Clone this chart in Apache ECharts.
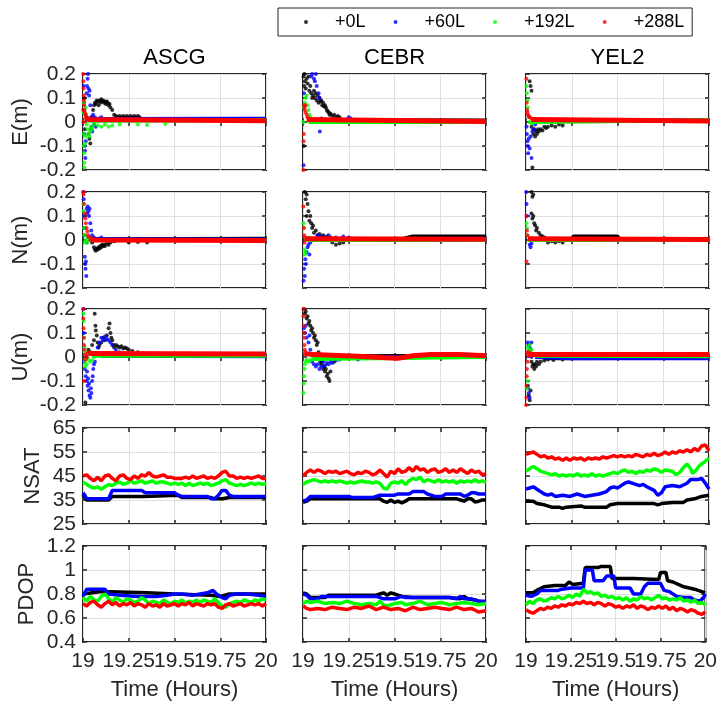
<!DOCTYPE html>
<html><head><meta charset="utf-8">
<script src="https://cdn.jsdelivr.net/npm/echarts@6/dist/echarts.min.js"></script>
<style>html,body{margin:0;padding:0;background:#fff}#c{width:720px;height:704px}</style>
</head><body><div id="c"></div><script>
// ---------- categories / labels ----------
const stations = ['ASCG', 'CEBR', 'YEL2'];
const receivers = ['+0L', '+60L', '+192L', '+288L'];
const rowNames = ['E(m)', 'N(m)', 'U(m)', 'NSAT', 'PDOP'];
const xTicks = [19, 19.25, 19.5, 19.75, 20];
const yTicksENU = [-0.2, -0.1, 0, 0.1, 0.2];
const yTicksNSAT = [25, 35, 45, 55, 65];
const yTicksPDOP = [0.4, 0.6, 0.8, 1, 1.2];

// ---------- ASCG E ----------
const ASCG_E_0L = [[19.004,0.05],[19.008,0.1],[19.01,-0.03],[19.015,0.03],[19.02,0.01],[19.03,-0.05],[19.035,-0.07],[19.04,-0.09],[19.045,-0.03],[19.05,0.02],[19.055,0.05],[19.06,0.07],[19.065,0.08],[19.07,0.075],[19.075,0.09],[19.08,0.085],[19.085,0.07],[19.09,0.09],[19.095,0.08],[19.1,0.095],[19.105,0.085],[19.11,0.09],[19.115,0.08],[19.12,0.085],[19.125,0.075],[19.13,0.085],[19.135,0.08],[19.14,0.07],[19.145,0.075],[19.15,0.06],[19.16,0.05],[19.17,0.03],[19.18,0.025],[19.19,0.02],[19.2,0.025],[19.21,0.02],[19.22,0.025],[19.23,0.02],[19.24,0.025],[19.25,0.02],[19.26,0.025],[19.27,0.02],[19.28,0.025],[19.29,0.02],[19.3,0.025],[19.31,0.02]];
const ASCG_E_0L_band = [[19.06,0.01],[19.5,0.008],[20,0.01]];
const ASCG_E_60L = [[19.003,0.15],[19.005,0.08],[19.007,-0.05],[19.009,-0.1],[19.011,-0.12],[19.013,-0.15],[19.015,-0.08],[19.02,0.12],[19.022,0.15],[19.025,0.18],[19.028,0.2],[19.03,0.14],[19.033,0.11],[19.036,0.13],[19.04,0.07],[19.043,0.02],[19.046,-0.02],[19.05,-0.04],[19.055,0.03],[19.06,-0.01],[19.065,0.02],[19.07,-0.02],[19.08,0.005],[19.09,0.015],[19.1,0.02],[19.12,0.005],[19.14,0.012],[19.16,0.008]];
const ASCG_E_60L_band = [[19.05,0.012],[20,0.014]];
const ASCG_E_192L = [[19.002,0.08],[19.003,0.04],[19.004,-0.05],[19.005,-0.1],[19.006,-0.13],[19.007,-0.17],[19.008,-0.19],[19.01,-0.09],[19.012,-0.06],[19.015,0.06],[19.018,0.03],[19.02,-0.01],[19.025,-0.03],[19.03,-0.05],[19.035,-0.06],[19.04,-0.04],[19.045,-0.02],[19.05,-0.03],[19.06,-0.01],[19.08,-0.015],[19.1,-0.02],[19.12,-0.01],[19.14,-0.02],[19.16,-0.015],[19.2,-0.01],[19.3,-0.01],[19.35,-0.012],[19.45,-0.008]];
const ASCG_E_192L_band = [[19.03,0.005],[20,0.008]];
const ASCG_E_288L = [[19.001,0.2],[19.002,0.17],[19.003,0.14],[19.004,0.11],[19.005,0.09],[19.006,0.07],[19.008,0.05],[19.01,0.04],[19.013,0.03],[19.016,0.02],[19.02,0.015],[19.001,0.05],[19.002,0.0]];
const ASCG_E_288L_band = [[19.015,0.02],[19.03,0.01],[20,0.005]];
// ---------- ASCG N ----------
const ASCG_N_0L = [[19.01,0.02],[19.02,-0.01],[19.03,0.01],[19.04,0.0],[19.05,-0.01],[19.06,-0.03],[19.065,-0.04],[19.07,-0.045],[19.075,-0.035],[19.08,-0.04],[19.085,-0.03],[19.09,-0.035],[19.095,-0.025],[19.1,-0.03],[19.105,-0.02],[19.11,-0.025],[19.115,-0.02],[19.12,-0.025],[19.13,-0.015],[19.14,-0.02],[19.15,-0.01],[19.17,-0.005],[19.25,-0.01],[19.3,-0.008],[19.35,-0.01]];
const ASCG_N_0L_band = [[19.05,0.003],[20,0.005]];
const ASCG_N_60L = [[19.002,0.2],[19.004,0.17],[19.006,0.1],[19.008,0.05],[19.01,-0.07],[19.012,-0.1],[19.014,-0.12],[19.016,-0.09],[19.018,-0.15],[19.02,0.13],[19.023,0.11],[19.026,0.14],[19.03,0.12],[19.033,0.1],[19.036,0.13],[19.04,0.07],[19.045,0.04],[19.05,0.02],[19.06,0.01],[19.08,0.005],[19.1,0.01],[19.3,0.005]];
const ASCG_N_60L_band = [[19.05,0.003],[20,0.002]];
const ASCG_N_192L = [[19.002,0.15],[19.004,0.12],[19.006,0.05],[19.008,0.02],[19.01,-0.01],[19.015,0.0],[19.02,-0.01],[19.03,0.01],[19.05,0.005]];
const ASCG_N_192L_band = [[19.03,0.0],[20,0.0]];
const ASCG_N_288L = [[19.001,0.2],[19.003,0.19],[19.006,0.15],[19.01,0.11],[19.013,0.09],[19.016,0.07],[19.02,0.05],[19.024,0.035],[19.028,0.02],[19.034,0.01],[19.04,0.005]];
const ASCG_N_288L_band = [[19.035,0.006],[19.06,0.0],[20,-0.002]];
// ---------- ASCG U ----------
const ASCG_U_0L = [[19.013,-0.19],[19.02,0.0],[19.03,0.03],[19.04,0.02],[19.05,0.05],[19.06,0.07],[19.064,0.18],[19.068,0.13],[19.07,0.11],[19.075,0.09],[19.08,0.06],[19.085,0.04],[19.09,0.05],[19.1,0.06],[19.11,0.08],[19.12,0.07],[19.13,0.09],[19.14,0.12],[19.145,0.14],[19.15,0.1],[19.155,0.08],[19.16,0.07],[19.165,0.05],[19.17,0.04],[19.18,0.05],[19.19,0.045],[19.2,0.04],[19.21,0.045],[19.22,0.035],[19.23,0.04],[19.24,0.035],[19.25,0.03],[19.27,0.025],[19.3,0.02],[19.33,0.015],[19.36,0.012]];
const ASCG_U_0L_band = [[19.1,0.005],[20,0.005]];
const ASCG_U_60L = [[19.002,0.2],[19.004,0.1],[19.006,-0.02],[19.01,-0.05],[19.015,-0.08],[19.02,-0.1],[19.022,-0.06],[19.025,-0.12],[19.028,-0.09],[19.03,-0.14],[19.033,-0.11],[19.036,-0.16],[19.04,-0.17],[19.043,-0.13],[19.046,-0.15],[19.05,-0.1],[19.053,-0.08],[19.056,-0.05],[19.06,-0.03],[19.065,-0.02],[19.07,0.01],[19.08,0.04],[19.09,0.06],[19.1,0.08],[19.11,0.07],[19.12,0.085],[19.13,0.075],[19.14,0.07],[19.15,0.06],[19.16,0.05],[19.18,0.03],[19.2,0.02],[19.25,0.01]];
const ASCG_U_60L_band = [[19.1,0.005],[20,0.003]];
const ASCG_U_192L = [[19.002,0.18],[19.004,0.15],[19.006,0.08],[19.008,0.04],[19.01,-0.02],[19.012,-0.04],[19.015,0.02],[19.02,-0.03],[19.03,-0.01],[19.04,-0.02],[19.05,-0.015],[19.06,0.0],[19.08,0.01]];
const ASCG_U_192L_band = [[19.05,0.005],[20,0.005]];
const ASCG_U_288L = [[19.001,0.2],[19.002,0.16],[19.003,0.12],[19.004,0.08],[19.005,-0.1],[19.006,0.05],[19.008,0.03],[19.01,0.01],[19.015,-0.01],[19.02,0.0],[19.025,0.015],[19.03,0.02]];
const ASCG_U_288L_band = [[19.03,0.015],[20,0.012]];
// ---------- CEBR E ----------
const CEBR_E_0L = [[19.003,0.19],[19.006,0.15],[19.008,0.2],[19.01,0.17],[19.015,0.14],[19.02,0.18],[19.025,0.16],[19.03,0.19],[19.035,0.13],[19.04,0.15],[19.045,0.12],[19.05,0.1],[19.055,0.11],[19.06,0.13],[19.065,0.1],[19.07,0.12],[19.075,0.09],[19.08,0.11],[19.085,0.08],[19.09,0.1],[19.095,0.085],[19.1,0.09],[19.105,0.07],[19.11,0.08],[19.115,0.065],[19.12,0.07],[19.125,0.06],[19.13,0.05],[19.135,0.045],[19.14,0.04],[19.145,0.03],[19.15,0.035],[19.16,0.025],[19.17,0.03],[19.18,0.02],[19.19,0.025],[19.2,0.02],[19.004,-0.1]];
const CEBR_E_0L_band = [[19.1,0.008],[20,0.006]];
const CEBR_E_60L = [[19.003,-0.18],[19.005,0.12],[19.045,0.19],[19.05,0.2],[19.06,0.18],[19.065,0.17],[19.07,0.2],[19.075,0.15],[19.085,0.12],[19.09,0.1],[19.092,-0.04],[19.1,0.015],[19.12,0.01],[19.25,0.02],[19.26,0.015]];
const CEBR_E_60L_band = [[19.1,0.005],[20,0.003]];
const CEBR_E_192L = [[19.002,0.0],[19.005,0.06],[19.01,0.08],[19.015,0.1],[19.02,0.11],[19.025,0.07],[19.03,0.05],[19.035,0.03],[19.04,0.02],[19.05,0.01]];
const CEBR_E_192L_band = [[19.03,0.0],[20,0.0]];
const CEBR_E_288L = [[19.002,-0.2],[19.003,-0.08],[19.004,-0.05],[19.006,0.07],[19.008,0.06],[19.01,0.05],[19.012,0.07],[19.015,0.04],[19.02,0.03],[19.025,0.02]];
const CEBR_E_288L_band = [[19.02,0.01],[20,0.002]];
// ---------- CEBR N ----------
const CEBR_N_0L = [[19.01,0.2],[19.015,0.17],[19.02,0.19],[19.025,0.15],[19.03,0.12],[19.02,0.1],[19.035,0.08],[19.04,0.1],[19.045,0.07],[19.05,0.05],[19.055,0.06],[19.06,0.03],[19.07,0.04],[19.08,0.02],[19.09,0.025],[19.1,0.015],[19.11,0.02],[19.12,0.01],[19.13,0.015],[19.14,0.005],[19.15,0.01],[19.16,-0.01],[19.18,-0.02],[19.2,-0.015],[19.22,-0.01]];
const CEBR_N_0L_band = [[19.1,0.003],[19.55,0.005],[19.6,0.015],[20,0.015]];
const CEBR_N_60L = [[19.003,-0.17],[19.006,-0.12],[19.01,-0.15],[19.013,-0.08],[19.016,-0.1],[19.02,-0.05],[19.025,-0.03],[19.03,-0.02],[19.035,-0.06],[19.04,-0.01],[19.05,0.0],[19.08,0.02],[19.1,0.015],[19.14,0.02],[19.18,0.01],[19.22,0.015],[19.25,0.01],[19.6,0.01]];
const CEBR_N_60L_band = [[19.1,0.003],[20,0.005]];
const CEBR_N_192L = [[19.003,0.07],[19.006,0.05],[19.008,-0.04],[19.01,-0.06],[19.015,-0.05],[19.02,0.0],[19.03,0.01]];
const CEBR_N_192L_band = [[19.03,0.0],[20,0.0]];
const CEBR_N_288L = [[19.002,0.14],[19.004,0.05],[19.006,0.02],[19.008,-0.01],[19.01,0.01]];
const CEBR_N_288L_band = [[19.01,0.005],[20,0.003]];
// ---------- CEBR U ----------
const CEBR_U_0L = [[19.005,0.2],[19.01,0.18],[19.015,0.19],[19.02,0.16],[19.025,0.17],[19.03,0.14],[19.035,0.15],[19.04,0.13],[19.045,0.11],[19.05,0.12],[19.055,0.1],[19.06,0.08],[19.065,0.09],[19.07,0.07],[19.075,0.05],[19.08,0.06],[19.085,0.02],[19.09,0.0],[19.095,-0.02],[19.1,-0.03],[19.105,-0.02],[19.11,-0.05],[19.115,-0.04],[19.12,-0.06],[19.125,-0.05],[19.13,-0.08],[19.135,-0.07],[19.14,-0.09],[19.145,-0.1],[19.15,-0.06],[19.17,-0.02],[19.2,0.0],[19.25,0.005],[19.3,0.0],[19.35,0.003]];
const CEBR_U_0L_band = [[19.2,0.003],[20,0.005]];
const CEBR_U_60L = [[19.005,0.12],[19.01,0.1],[19.015,0.13],[19.02,0.08],[19.03,0.06],[19.035,0.09],[19.04,0.03],[19.05,-0.02],[19.06,-0.03],[19.07,-0.04],[19.08,-0.03],[19.09,-0.05],[19.1,-0.04],[19.11,-0.02],[19.12,-0.035],[19.13,-0.025],[19.14,-0.03],[19.15,-0.02],[19.16,-0.025],[19.18,-0.015],[19.2,-0.01],[19.25,-0.005],[19.3,-0.01],[19.35,-0.005]];
const CEBR_U_60L_band = [[19.2,-0.003],[20,0.003]];
const CEBR_U_192L = [[19.002,-0.15],[19.004,-0.11],[19.006,-0.08],[19.008,-0.05],[19.01,-0.03],[19.015,-0.02],[19.02,-0.01],[19.03,-0.02],[19.04,-0.015],[19.05,-0.01]];
const CEBR_U_192L_band = [[19.05,-0.008],[20,0.0]];
const CEBR_U_288L = [[19.002,0.2],[19.003,0.17],[19.004,0.13],[19.005,0.1],[19.006,0.08],[19.008,0.05],[19.01,0.03],[19.012,0.02],[19.015,0.01]];
const CEBR_U_288L_band = [[19.01,0.015],[19.05,0.01],[19.3,0.003],[19.45,-0.003],[19.52,-0.005],[19.6,0.005],[19.7,0.01],[19.85,0.01],[20,0.005]];
// ---------- YEL2 E ----------
const YEL2_E_0L = [[19.02,0.17],[19.025,0.15],[19.03,0.13],[19.035,-0.19],[19.03,-0.02],[19.04,-0.05],[19.045,-0.03],[19.05,-0.06],[19.055,-0.04],[19.06,-0.05],[19.065,-0.03],[19.07,-0.04],[19.08,-0.03],[19.09,-0.035],[19.1,-0.02],[19.11,-0.025],[19.12,-0.02],[19.14,-0.015],[19.16,-0.02],[19.18,-0.01],[19.2,-0.015]];
const YEL2_E_0L_band = [[19.1,0.003],[20,0.005]];
const YEL2_E_60L = [[19.003,-0.02],[19.005,-0.05],[19.008,-0.08],[19.01,-0.1],[19.012,-0.13],[19.015,-0.07],[19.02,-0.11],[19.025,-0.06],[19.03,-0.15],[19.035,-0.04],[19.04,-0.03],[19.05,-0.01]];
const YEL2_E_60L_band = [[19.05,0.005],[20,0.008]];
const YEL2_E_192L = [[19.003,0.15],[19.005,0.12],[19.008,0.09],[19.01,0.06],[19.015,0.02],[19.02,0.0],[19.03,-0.005]];
const YEL2_E_192L_band = [[19.03,0.0],[20,0.008]];
const YEL2_E_288L = [[19.002,0.18],[19.004,0.08],[19.006,0.05],[19.008,0.04],[19.01,0.03],[19.015,0.025],[19.02,0.02],[19.03,0.015],[19.04,0.01]];
const YEL2_E_288L_band = [[19.03,0.01],[20,0.004]];
// ---------- YEL2 N ----------
const YEL2_N_0L = [[19.03,0.2],[19.035,0.18],[19.04,0.19],[19.03,0.11],[19.035,0.09],[19.04,0.1],[19.045,0.07],[19.05,0.06],[19.055,0.04],[19.06,0.05],[19.07,0.03],[19.08,0.02],[19.09,0.015],[19.1,0.01],[19.12,-0.01],[19.14,-0.005],[19.16,-0.01],[19.18,-0.005],[19.2,-0.01]];
const YEL2_N_0L_band = [[19.1,0.003],[19.25,0.003],[19.26,0.015],[19.5,0.015],[19.51,0.003],[20,0.003]];
const YEL2_N_60L = [[19.001,0.2],[19.003,0.15],[19.005,0.1],[19.02,-0.02],[19.025,-0.03],[19.03,-0.015]];
const YEL2_N_60L_band = [[19.03,0.0],[20,0.002]];
const YEL2_N_192L = [[19.003,0.07],[19.005,0.05],[19.008,0.02]];
const YEL2_N_192L_band = [[19.01,0.0],[20,0.0]];
const YEL2_N_288L = [[19.002,0.1],[19.003,-0.09],[19.005,0.04],[19.007,0.02]];
const YEL2_N_288L_band = [[19.01,0.005],[20,0.002]];
// ---------- YEL2 U ----------
const YEL2_U_0L = [[19.01,-0.12],[19.015,-0.16],[19.02,-0.18],[19.025,-0.14],[19.03,-0.02],[19.035,-0.04],[19.04,-0.03],[19.045,-0.05],[19.05,-0.03],[19.055,-0.04],[19.06,-0.02],[19.07,-0.03],[19.08,-0.02],[19.1,-0.015],[19.12,-0.01],[19.15,-0.012],[19.2,-0.01]];
const YEL2_U_0L_band = [[19.1,-0.005],[20,-0.003]];
const YEL2_U_60L = [[19.01,0.06],[19.015,0.05],[19.02,0.04],[19.025,0.03],[19.03,0.06],[19.01,-0.13],[19.015,-0.15],[19.02,-0.17],[19.03,0.0],[19.05,0.01]];
const YEL2_U_60L_band = [[19.05,0.0],[19.25,-0.005],[20,-0.005]];
const YEL2_U_192L = [[19.01,0.04],[19.015,0.03],[19.02,0.05],[19.025,0.02],[19.03,0.03],[19.005,-0.13],[19.01,-0.1]];
const YEL2_U_192L_band = [[19.05,0.005],[20,0.003]];
const YEL2_U_288L = [[19.001,-0.2],[19.002,-0.17],[19.003,-0.12],[19.004,-0.08],[19.005,-0.05],[19.006,0.02],[19.008,-0.02],[19.01,0.01],[19.015,0.02],[19.02,0.005],[19.025,0.015]];
const YEL2_U_288L_band = [[19.02,0.01],[20,0.01]];

// ---------- NSAT ----------
const ASCG_NSAT_0L = [[19,37.5],[19.01,36],[19.02,35],[19.14,35],[19.16,36.5],[19.33,36.5],[19.34,37],[19.52,37],[19.54,36],[19.7,36],[19.72,35.5],[19.76,35.5],[19.8,36],[20,36]];
const ASCG_NSAT_60L = [[19,38],[19.01,37],[19.02,35.5],[19.14,35.5],[19.16,39],[19.32,39],[19.34,38],[19.5,38],[19.52,37],[19.54,36.5],[19.68,36.5],[19.7,35.5],[19.72,35.5],[19.74,37],[19.76,39],[19.78,39],[19.8,37],[19.82,36.5],[20,36.5]];
const ASCG_NSAT_192L = [[19,42.5],[19.02,41.5],[19.04,40.5],[19.06,40],[19.08,40.5],[19.1,39.5],[19.12,40.5],[19.14,41.5],[19.16,41],[19.18,42],[19.2,42.5],[19.22,41.5],[19.24,42],[19.26,43],[19.28,42],[19.3,42.5],[19.32,43],[19.34,42],[19.36,42.5],[19.38,43],[19.4,42],[19.42,42.5],[19.44,42.5],[19.46,42],[19.48,41.5],[19.5,42],[19.52,41.5],[19.54,42],[19.56,41],[19.58,42],[19.6,41],[19.62,41.5],[19.64,42],[19.66,41.5],[19.68,42],[19.7,41],[19.72,41.5],[19.74,42],[19.76,43],[19.78,43.5],[19.8,42],[19.82,41.5],[19.84,41],[19.86,41.5],[19.88,41],[19.9,41.5],[19.92,42],[19.94,41.5],[19.96,42],[19.98,41.5],[20,42]];
const ASCG_NSAT_288L = [[19,45],[19.02,45.5],[19.04,44],[19.06,43],[19.08,44.5],[19.1,43],[19.12,45],[19.14,45.5],[19.16,44],[19.18,43],[19.2,45],[19.22,45.5],[19.24,44],[19.26,43.5],[19.28,45],[19.3,44],[19.32,45.5],[19.34,45],[19.36,46.5],[19.38,45],[19.4,44.5],[19.42,45],[19.44,45.5],[19.46,44.5],[19.48,44.5],[19.5,44],[19.52,44],[19.54,44],[19.56,44.5],[19.58,44],[19.6,45],[19.62,44],[19.64,44.5],[19.66,45],[19.68,44],[19.7,44.5],[19.72,44],[19.74,45],[19.76,46.5],[19.78,47],[19.8,45],[19.82,45],[19.84,44],[19.86,44.5],[19.88,44],[19.9,44.5],[19.92,44],[19.94,44.5],[19.96,45],[19.98,44],[20,44]];
const CEBR_NSAT_0L = [[19,34],[19.02,34.5],[19.04,35.5],[19.42,35.5],[19.44,34.5],[19.46,34],[19.48,35],[19.5,34],[19.52,34.5],[19.54,33.8],[19.56,34.5],[19.58,35.5],[19.84,35.5],[19.86,35],[19.88,34.5],[19.9,35.5],[19.92,35.5],[19.94,34.2],[19.96,34.5],[19.98,35],[20,35]];
const CEBR_NSAT_60L = [[19,34.5],[19.02,35],[19.04,36.5],[19.25,36.5],[19.27,36],[19.38,36],[19.42,37],[19.5,37],[19.52,37.5],[19.58,37.5],[19.6,38.5],[19.66,38.5],[19.68,37.5],[19.72,36.5],[19.76,36.5],[19.78,37.5],[19.86,37.5],[19.88,36.5],[19.9,37],[19.92,38],[19.94,38],[19.96,37.5],[20,37.5]];
const CEBR_NSAT_192L = [[19,41.5],[19.02,42.5],[19.04,43],[19.06,43.5],[19.08,43],[19.1,42.5],[19.12,43],[19.14,42.5],[19.16,43],[19.18,42.5],[19.2,43],[19.22,42.5],[19.24,42],[19.26,42.5],[19.28,42],[19.3,42.5],[19.32,43],[19.34,42.5],[19.36,42.5],[19.38,42],[19.4,42.5],[19.42,42],[19.44,40],[19.46,39.5],[19.48,42],[19.5,42.5],[19.52,42],[19.54,43],[19.56,41.5],[19.58,43],[19.6,44],[19.62,43.5],[19.64,44.5],[19.66,42.5],[19.68,43.5],[19.7,43],[19.72,42.5],[19.74,43.5],[19.76,42.5],[19.78,43],[19.8,42.5],[19.82,43],[19.84,42],[19.86,43],[19.88,42.5],[19.9,43],[19.92,42.5],[19.94,43.5],[19.96,42.5],[19.98,43],[20,42.5]];
const CEBR_NSAT_288L = [[19,45],[19.02,46.5],[19.04,47.5],[19.06,46.5],[19.08,47.5],[19.1,47],[19.12,46],[19.14,47],[19.16,46.5],[19.18,47],[19.2,46],[19.22,46.5],[19.24,47],[19.26,46],[19.28,45.5],[19.3,46.5],[19.32,46],[19.34,47],[19.36,46.5],[19.38,45.5],[19.4,46],[19.42,47.5],[19.44,46],[19.46,44.5],[19.48,47],[19.5,46],[19.52,48],[19.54,46.5],[19.56,47],[19.58,48.5],[19.6,47],[19.62,49],[19.64,47.5],[19.66,48],[19.68,46.5],[19.7,47.5],[19.72,48],[19.74,46.5],[19.76,47],[19.78,48],[19.8,46.5],[19.82,47.5],[19.84,46.5],[19.86,48],[19.88,47],[19.9,46],[19.92,47.5],[19.94,46.5],[19.96,47],[19.98,45.5],[20,46]];
const YEL2_NSAT_0L = [[19,34.5],[19.04,34.5],[19.06,33.5],[19.1,33],[19.14,32],[19.18,32],[19.2,31.5],[19.22,32],[19.3,32.5],[19.32,32],[19.44,32],[19.46,33],[19.5,33.5],[19.7,33.5],[19.72,33],[19.74,33.5],[19.8,34],[19.86,34],[19.88,35],[19.92,35.5],[19.96,36.5],[20,37]];
const YEL2_NSAT_60L = [[19,39.5],[19.02,40],[19.04,40.5],[19.06,39.5],[19.08,38.5],[19.1,37.5],[19.12,37],[19.14,37.5],[19.16,36.5],[19.2,37],[19.24,36.5],[19.28,37.5],[19.32,36.5],[19.36,37],[19.4,37.5],[19.44,38.5],[19.46,40],[19.48,40.5],[19.5,40],[19.52,41],[19.54,42],[19.56,42.5],[19.58,42],[19.6,41.5],[19.62,41],[19.64,41.5],[19.66,40.5],[19.7,39],[19.72,37],[19.74,38],[19.76,40.5],[19.8,41],[19.84,40.5],[19.88,42],[19.9,43.5],[19.94,43.5],[19.96,44],[19.98,42],[20,39.5]];
const YEL2_NSAT_192L = [[19,47],[19.02,48],[19.04,49],[19.06,48],[19.08,47],[19.1,46.5],[19.12,46],[19.14,45.5],[19.16,46],[19.18,45],[19.2,45.5],[19.22,45],[19.24,45.5],[19.26,45],[19.28,46],[19.3,45],[19.32,45.5],[19.34,45],[19.36,46],[19.38,45],[19.4,45.5],[19.42,45],[19.44,45.5],[19.46,46],[19.48,46.5],[19.5,46],[19.52,47],[19.54,47.5],[19.56,46.5],[19.58,47],[19.6,46],[19.62,47],[19.64,46.5],[19.66,47.5],[19.68,47],[19.7,48],[19.72,47.5],[19.74,46.5],[19.76,47.5],[19.8,47],[19.82,45.5],[19.84,46.5],[19.86,48.5],[19.88,50],[19.9,48],[19.91,46],[19.93,47.5],[19.95,49.5],[19.97,50.5],[20,52.5]];
const YEL2_NSAT_288L = [[19,54],[19.02,54.5],[19.04,55],[19.06,54],[19.08,53],[19.1,53.5],[19.12,52.5],[19.14,53],[19.16,52],[19.18,52.5],[19.2,51.5],[19.22,52.5],[19.24,51.5],[19.26,52.5],[19.28,52],[19.3,52.5],[19.32,51.5],[19.34,52.5],[19.36,52],[19.38,52.5],[19.4,52],[19.42,53],[19.44,52.5],[19.46,53],[19.48,53.5],[19.5,53],[19.52,53.5],[19.54,53],[19.56,53.5],[19.58,53],[19.6,54],[19.62,53.5],[19.64,53],[19.66,54],[19.68,53.5],[19.7,54.5],[19.72,53.5],[19.74,54],[19.76,55],[19.78,54],[19.8,55],[19.82,54.5],[19.84,55.5],[19.86,55],[19.88,56],[19.9,55],[19.92,56.5],[19.94,55.5],[19.96,57.5],[19.98,58],[20,55.5]];

// ---------- PDOP ----------
const ASCG_PDOP_0L = [[19,0.8],[19.1,0.82],[19.35,0.81],[19.36,0.8],[19.5,0.8],[19.7,0.79],[19.75,0.78],[19.8,0.8],[20,0.8]];
const ASCG_PDOP_60L = [[19,0.78],[19.02,0.84],[19.12,0.84],[19.14,0.8],[19.2,0.79],[19.3,0.78],[19.4,0.78],[19.46,0.79],[19.5,0.8],[19.54,0.8],[19.6,0.79],[19.68,0.81],[19.71,0.83],[19.73,0.8],[19.76,0.77],[19.78,0.76],[19.8,0.79],[19.84,0.8],[19.9,0.8],[19.96,0.79],[20,0.78]];
const ASCG_PDOP_192L = [[19,0.77],[19.02,0.74],[19.04,0.78],[19.06,0.75],[19.08,0.74],[19.1,0.78],[19.12,0.8],[19.14,0.76],[19.16,0.73],[19.18,0.77],[19.2,0.75],[19.22,0.73],[19.24,0.76],[19.26,0.75],[19.28,0.73],[19.3,0.74],[19.32,0.77],[19.34,0.75],[19.36,0.72],[19.38,0.74],[19.4,0.73],[19.42,0.72],[19.44,0.75],[19.46,0.73],[19.48,0.72],[19.5,0.74],[19.52,0.73],[19.54,0.75],[19.56,0.72],[19.58,0.74],[19.6,0.73],[19.62,0.75],[19.64,0.73],[19.66,0.75],[19.68,0.74],[19.7,0.73],[19.72,0.76],[19.74,0.73],[19.76,0.7],[19.78,0.69],[19.8,0.72],[19.82,0.73],[19.84,0.74],[19.86,0.73],[19.88,0.75],[19.9,0.74],[19.92,0.73],[19.94,0.75],[19.96,0.74],[19.98,0.76],[20,0.75]];
const ASCG_PDOP_288L = [[19,0.72],[19.02,0.7],[19.04,0.73],[19.06,0.74],[19.08,0.71],[19.1,0.69],[19.12,0.72],[19.14,0.74],[19.16,0.71],[19.18,0.73],[19.2,0.7],[19.22,0.72],[19.24,0.71],[19.26,0.73],[19.28,0.7],[19.3,0.72],[19.32,0.71],[19.34,0.69],[19.36,0.72],[19.38,0.7],[19.4,0.71],[19.42,0.69],[19.44,0.72],[19.46,0.7],[19.48,0.71],[19.5,0.72],[19.52,0.7],[19.54,0.72],[19.56,0.71],[19.58,0.73],[19.6,0.7],[19.62,0.72],[19.64,0.71],[19.66,0.7],[19.68,0.72],[19.7,0.71],[19.72,0.72],[19.74,0.69],[19.76,0.68],[19.78,0.71],[19.8,0.72],[19.82,0.7],[19.84,0.71],[19.86,0.72],[19.88,0.7],[19.9,0.71],[19.92,0.72],[19.94,0.71],[19.96,0.72],[19.98,0.7],[20,0.72]];
const CEBR_PDOP_0L = [[19,0.81],[19.02,0.8],[19.04,0.77],[19.12,0.77],[19.14,0.79],[19.4,0.79],[19.42,0.8],[19.44,0.81],[19.46,0.79],[19.48,0.81],[19.5,0.8],[19.52,0.79],[19.54,0.78],[19.6,0.77],[19.8,0.77],[19.86,0.76],[19.88,0.78],[19.9,0.76],[19.94,0.75],[19.96,0.74],[20,0.73]];
const CEBR_PDOP_60L = [[19,0.8],[19.02,0.79],[19.04,0.76],[19.08,0.76],[19.1,0.78],[19.4,0.78],[19.44,0.76],[19.5,0.76],[19.54,0.78],[19.56,0.77],[19.7,0.77],[19.8,0.77],[19.84,0.76],[19.86,0.78],[19.88,0.76],[19.92,0.76],[19.96,0.74],[20,0.74]];
const CEBR_PDOP_192L = [[19,0.72],[19.02,0.74],[19.04,0.73],[19.08,0.74],[19.12,0.72],[19.16,0.73],[19.2,0.72],[19.24,0.74],[19.28,0.72],[19.32,0.71],[19.36,0.72],[19.4,0.71],[19.42,0.74],[19.44,0.71],[19.46,0.7],[19.5,0.72],[19.54,0.73],[19.56,0.71],[19.6,0.72],[19.64,0.74],[19.68,0.71],[19.72,0.72],[19.76,0.73],[19.8,0.71],[19.84,0.72],[19.88,0.73],[19.92,0.72],[19.96,0.71],[20,0.72]];
const CEBR_PDOP_288L = [[19,0.7],[19.02,0.68],[19.04,0.67],[19.08,0.68],[19.12,0.67],[19.16,0.69],[19.2,0.68],[19.24,0.67],[19.28,0.69],[19.32,0.68],[19.36,0.7],[19.4,0.67],[19.44,0.69],[19.48,0.67],[19.52,0.68],[19.56,0.66],[19.6,0.69],[19.64,0.67],[19.68,0.68],[19.72,0.69],[19.76,0.68],[19.8,0.67],[19.84,0.69],[19.88,0.67],[19.92,0.68],[19.96,0.65],[20,0.66]];
const YEL2_PDOP_0L = [[19,0.81],[19.04,0.81],[19.06,0.83],[19.1,0.86],[19.16,0.87],[19.22,0.87],[19.24,0.9],[19.26,0.88],[19.32,0.89],[19.33,1.02],[19.4,1.02],[19.42,1.03],[19.47,1.03],[19.48,0.93],[19.6,0.93],[19.74,0.92],[19.75,0.98],[19.78,0.98],[19.79,0.91],[19.82,0.9],[19.88,0.86],[19.94,0.84],[20,0.81]];
const YEL2_PDOP_60L = [[19,0.79],[19.03,0.78],[19.06,0.8],[19.08,0.83],[19.18,0.83],[19.2,0.84],[19.25,0.85],[19.32,0.85],[19.33,1.0],[19.37,1.0],[19.38,0.91],[19.43,0.91],[19.45,0.95],[19.49,0.95],[19.5,0.85],[19.58,0.85],[19.6,0.8],[19.64,0.8],[19.66,0.86],[19.68,0.89],[19.75,0.89],[19.77,0.83],[19.8,0.82],[19.84,0.78],[19.88,0.77],[19.92,0.77],[19.94,0.75],[19.97,0.74],[19.99,0.77],[20,0.8]];
const YEL2_PDOP_192L = [[19,0.71],[19.02,0.74],[19.04,0.72],[19.06,0.75],[19.08,0.76],[19.1,0.74],[19.12,0.75],[19.14,0.77],[19.16,0.76],[19.18,0.78],[19.2,0.76],[19.22,0.77],[19.24,0.79],[19.26,0.77],[19.28,0.8],[19.3,0.78],[19.32,0.84],[19.34,0.81],[19.36,0.82],[19.38,0.8],[19.4,0.81],[19.42,0.78],[19.44,0.79],[19.46,0.77],[19.48,0.78],[19.5,0.76],[19.52,0.77],[19.54,0.75],[19.56,0.77],[19.58,0.74],[19.6,0.76],[19.62,0.75],[19.64,0.78],[19.66,0.76],[19.68,0.77],[19.7,0.75],[19.72,0.77],[19.74,0.79],[19.76,0.76],[19.78,0.77],[19.8,0.75],[19.82,0.76],[19.84,0.75],[19.86,0.77],[19.88,0.74],[19.9,0.75],[19.92,0.73],[19.94,0.75],[19.96,0.72],[19.98,0.73],[20,0.71]];
const YEL2_PDOP_288L = [[19,0.67],[19.02,0.65],[19.04,0.64],[19.06,0.66],[19.08,0.68],[19.1,0.67],[19.12,0.69],[19.14,0.68],[19.16,0.7],[19.18,0.69],[19.2,0.71],[19.22,0.7],[19.24,0.72],[19.26,0.71],[19.28,0.73],[19.3,0.72],[19.32,0.74],[19.34,0.72],[19.36,0.73],[19.38,0.71],[19.4,0.73],[19.42,0.72],[19.44,0.7],[19.46,0.72],[19.48,0.71],[19.5,0.69],[19.52,0.7],[19.54,0.68],[19.56,0.7],[19.58,0.69],[19.6,0.71],[19.62,0.68],[19.64,0.7],[19.66,0.69],[19.68,0.67],[19.7,0.69],[19.72,0.68],[19.74,0.7],[19.76,0.68],[19.78,0.7],[19.8,0.67],[19.82,0.69],[19.84,0.66],[19.86,0.68],[19.88,0.67],[19.9,0.65],[19.92,0.67],[19.94,0.66],[19.96,0.64],[19.98,0.63],[20,0.65]];

// ---------- assembling (lookup only) ----------
const scatterData = {
  ASCG: { E: [ASCG_E_0L, ASCG_E_60L, ASCG_E_192L, ASCG_E_288L], N: [ASCG_N_0L, ASCG_N_60L, ASCG_N_192L, ASCG_N_288L], U: [ASCG_U_0L, ASCG_U_60L, ASCG_U_192L, ASCG_U_288L] },
  CEBR: { E: [CEBR_E_0L, CEBR_E_60L, CEBR_E_192L, CEBR_E_288L], N: [CEBR_N_0L, CEBR_N_60L, CEBR_N_192L, CEBR_N_288L], U: [CEBR_U_0L, CEBR_U_60L, CEBR_U_192L, CEBR_U_288L] },
  YEL2: { E: [YEL2_E_0L, YEL2_E_60L, YEL2_E_192L, YEL2_E_288L], N: [YEL2_N_0L, YEL2_N_60L, YEL2_N_192L, YEL2_N_288L], U: [YEL2_U_0L, YEL2_U_60L, YEL2_U_192L, YEL2_U_288L] }
};
const bandData = {
  ASCG: { E: [ASCG_E_0L_band, ASCG_E_60L_band, ASCG_E_192L_band, ASCG_E_288L_band], N: [ASCG_N_0L_band, ASCG_N_60L_band, ASCG_N_192L_band, ASCG_N_288L_band], U: [ASCG_U_0L_band, ASCG_U_60L_band, ASCG_U_192L_band, ASCG_U_288L_band] },
  CEBR: { E: [CEBR_E_0L_band, CEBR_E_60L_band, CEBR_E_192L_band, CEBR_E_288L_band], N: [CEBR_N_0L_band, CEBR_N_60L_band, CEBR_N_192L_band, CEBR_N_288L_band], U: [CEBR_U_0L_band, CEBR_U_60L_band, CEBR_U_192L_band, CEBR_U_288L_band] },
  YEL2: { E: [YEL2_E_0L_band, YEL2_E_60L_band, YEL2_E_192L_band, YEL2_E_288L_band], N: [YEL2_N_0L_band, YEL2_N_60L_band, YEL2_N_192L_band, YEL2_N_288L_band], U: [YEL2_U_0L_band, YEL2_U_60L_band, YEL2_U_192L_band, YEL2_U_288L_band] }
};
const lineData = {
  ASCG: { NSAT: [ASCG_NSAT_0L, ASCG_NSAT_60L, ASCG_NSAT_192L, ASCG_NSAT_288L], PDOP: [ASCG_PDOP_0L, ASCG_PDOP_60L, ASCG_PDOP_192L, ASCG_PDOP_288L] },
  CEBR: { NSAT: [CEBR_NSAT_0L, CEBR_NSAT_60L, CEBR_NSAT_192L, CEBR_NSAT_288L], PDOP: [CEBR_PDOP_0L, CEBR_PDOP_60L, CEBR_PDOP_192L, CEBR_PDOP_288L] },
  YEL2: { NSAT: [YEL2_NSAT_0L, YEL2_NSAT_60L, YEL2_NSAT_192L, YEL2_NSAT_288L], PDOP: [YEL2_PDOP_0L, YEL2_PDOP_60L, YEL2_PDOP_192L, YEL2_PDOP_288L] }
};

// ---------- styling / layout ----------
const colors = ['#000000', '#0000ff', '#00ff00', '#ff0000'];
const FONT = "'Liberation Sans', Arial, Helvetica, sans-serif";
const TXT = '#262626';
const colLeft = [83, 303, 526];
const rowTop = [74, 192, 309, 428, 546];
const PW = 183, PH = 96;
const rowKeys = ['E', 'N', 'U', 'NSAT', 'PDOP'];
const rowTicks = [yTicksENU, yTicksENU, yTicksENU, yTicksNSAT, yTicksPDOP];
const nameGaps = [51, 51, 51, 39, 45];
const TICK_FS = 21;
const NAME_FS = 22;

const grids = [], xAxes = [], yAxes = [], series = [], titles = [];
stations.forEach((st, c) => {
  titles.push({
    text: st, left: colLeft[c] + PW / 2, top: 47, textAlign: 'center', padding: 0,
    textStyle: { fontFamily: FONT, fontSize: 22, fontWeight: 'normal', color: '#000' }
  });
});

for (let r = 0; r < 5; r++) {
  for (let c = 0; c < 3; c++) {
    const g = grids.length;
    grids.push({
      left: colLeft[c], top: rowTop[r], width: PW, height: PH,
      show: true, borderColor: TXT, borderWidth: 2, backgroundColor: '#fff'
    });
    const ticks = rowTicks[r];
    const yMin = ticks[0], yMax = ticks[ticks.length - 1];
    const yInt = +(ticks[1] - ticks[0]).toFixed(6);
    const xInt = xTicks[1] - xTicks[0];
    xAxes.push({
      gridIndex: g, type: 'value', min: xTicks[0], max: xTicks[xTicks.length - 1], interval: xInt,
      position: 'bottom',
      axisLine: { show: false },
      axisTick: { show: true, inside: true, length: 4, lineStyle: { color: TXT, width: 1.5 } },
      axisLabel: { show: r === 4, fontFamily: FONT, fontSize: TICK_FS, color: TXT, margin: 9, hideOverlap: false },
      splitLine: { show: true, lineStyle: { color: '#dfdfdf', width: 1 } },
      name: r === 4 ? 'Time (Hours)' : '', nameLocation: 'middle', nameGap: 37,
      nameTextStyle: { fontFamily: FONT, fontSize: NAME_FS, color: TXT }
    });
    xAxes.push({
      gridIndex: g, type: 'value', min: xTicks[0], max: xTicks[xTicks.length - 1], interval: xInt,
      position: 'top',
      axisLine: { show: false },
      axisTick: { show: true, inside: true, length: 4, lineStyle: { color: TXT, width: 1.5 } },
      axisLabel: { show: false }, splitLine: { show: false }
    });
    yAxes.push({
      gridIndex: g, type: 'value', min: yMin, max: yMax, interval: yInt, position: 'left',
      axisLine: { show: false },
      axisTick: { show: true, inside: true, length: 4, lineStyle: { color: TXT, width: 1.5 } },
      axisLabel: { show: c === 0, fontFamily: FONT, fontSize: TICK_FS, color: TXT, margin: 7 },
      splitLine: { show: true, lineStyle: { color: '#dfdfdf', width: 1 } },
      name: c === 0 ? rowNames[r] : '', nameLocation: 'middle', nameRotate: 90, nameGap: nameGaps[r],
      nameTextStyle: { fontFamily: FONT, fontSize: NAME_FS, color: TXT }
    });
    yAxes.push({
      gridIndex: g, type: 'value', min: yMin, max: yMax, interval: yInt, position: 'right',
      axisLine: { show: false },
      axisTick: { show: true, inside: true, length: 4, lineStyle: { color: TXT, width: 1.5 } },
      axisLabel: { show: false }, splitLine: { show: false }
    });

    const st = stations[c], key = rowKeys[r];
    for (let k = 0; k < 4; k++) {
      if (r < 3) {
        series.push({
          name: receivers[k], type: 'scatter', xAxisIndex: 2 * g, yAxisIndex: 2 * g,
          data: scatterData[st][key][k], symbol: 'circle', symbolSize: 4, clip: true,
          itemStyle: { color: colors[k] }, silent: true
        });
        series.push({
          name: receivers[k], type: 'line', xAxisIndex: 2 * g, yAxisIndex: 2 * g,
          data: bandData[st][key][k], showSymbol: false, clip: true,
          lineStyle: { color: colors[k], width: k === 3 ? 5 : 4 }, itemStyle: { color: colors[k] }, silent: true
        });
      } else {
        series.push({
          name: receivers[k], type: 'line', xAxisIndex: 2 * g, yAxisIndex: 2 * g,
          data: lineData[st][key][k], showSymbol: false, clip: true,
          lineStyle: { color: colors[k], width: 3.5 }, itemStyle: { color: colors[k] }, silent: true
        });
      }
    }
  }
}

const chart = echarts.init(document.getElementById('c'), null, { renderer: 'canvas' });
chart.setOption({
  animation: false,
  backgroundColor: '#fff',
  title: titles,
  legend: {
    data: receivers.map(n => ({ name: n, icon: 'circle' })),
    left: 278, top: 8, orient: 'horizontal',
    itemWidth: 4, itemHeight: 4, itemGap: 28,
    padding: [5, 8, 5, 26],
    borderColor: TXT, borderWidth: 1, backgroundColor: '#fff',
    selectedMode: false,
    textStyle: { fontFamily: FONT, fontSize: 18, color: '#000', padding: [0, 0, 0, 22] }
  },
  grid: grids,
  xAxis: xAxes,
  yAxis: yAxes,
  series: series
});
</script></body></html>
